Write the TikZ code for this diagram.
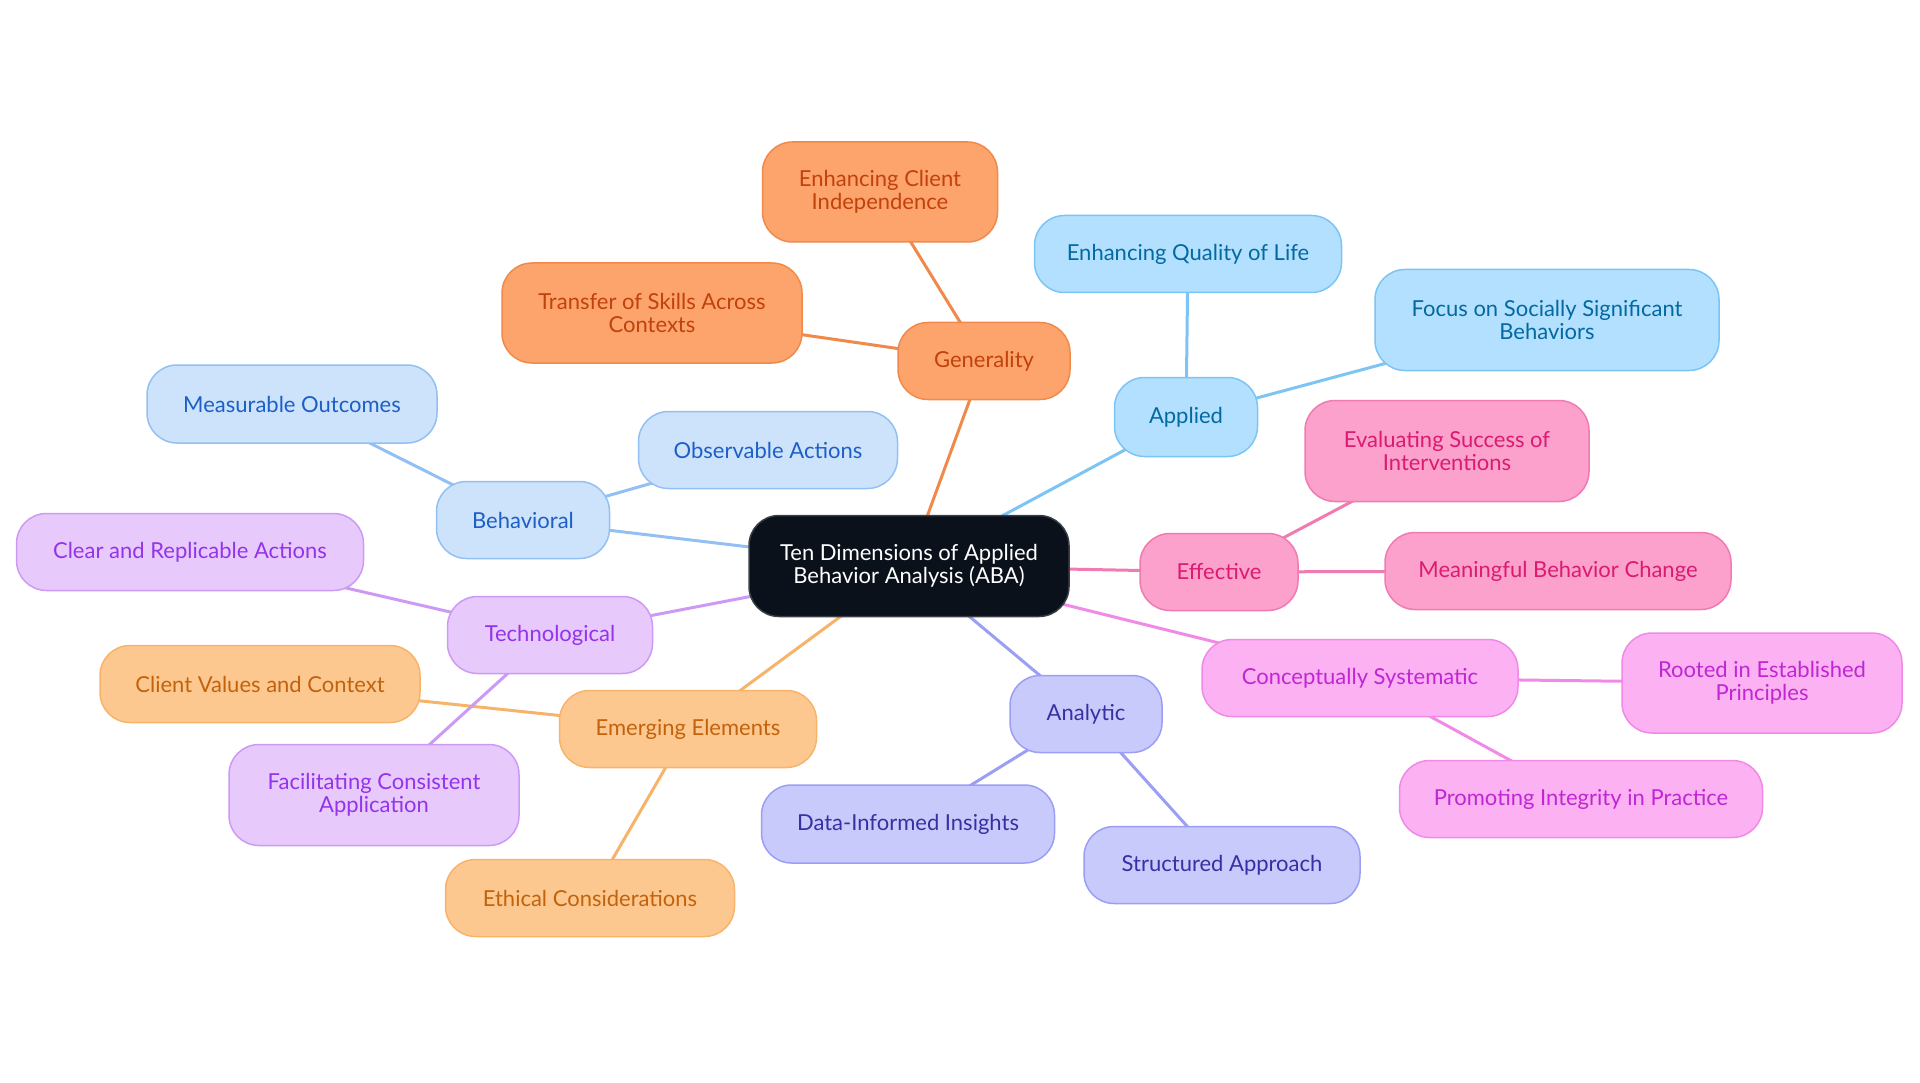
\documentclass[tikz,border=0pt]{standalone}
\usepackage{fontspec}
\setmainfont{Lato}
\usetikzlibrary{backgrounds}
\definecolor{cenfill}{HTML}{0B111B}
\definecolor{cendraw}{HTML}{3A3F47}
\definecolor{orfill}{HTML}{FCA46C}
\definecolor{ordraw}{HTML}{F08A4B}
\definecolor{ortext}{HTML}{C2410C}
\definecolor{skfill}{HTML}{B3E0FE}
\definecolor{skdraw}{HTML}{7CC4F4}
\definecolor{sktext}{HTML}{0369A1}
\definecolor{pkfill}{HTML}{FBA1CB}
\definecolor{pkdraw}{HTML}{F07BB0}
\definecolor{pktext}{HTML}{DB1A72}
\definecolor{mgfill}{HTML}{FBB1F2}
\definecolor{mgdraw}{HTML}{F08AE6}
\definecolor{mgtext}{HTML}{C026D3}
\definecolor{infill}{HTML}{C8CAFC}
\definecolor{indraw}{HTML}{9A9EF5}
\definecolor{intext}{HTML}{3730A3}
\definecolor{lofill}{HTML}{FDC890}
\definecolor{lodraw}{HTML}{F8B36A}
\definecolor{lotext}{HTML}{C2620C}
\definecolor{pufill}{HTML}{E8C9FC}
\definecolor{pudraw}{HTML}{CC9AF5}
\definecolor{putext}{HTML}{9333EA}
\definecolor{blfill}{HTML}{CDE3FB}
\definecolor{bldraw}{HTML}{93C0F2}
\definecolor{bltext}{HTML}{1D5FC7}
\tikzset{
  box/.style={rounded corners=30pt, line width=1.5pt, inner sep=0pt, align=center,
    font=\fontsize{22}{23.5}\selectfont},
  cen/.style={box, fill=cenfill, draw=cendraw, text=white},
  orn/.style={box, fill=orfill, draw=ordraw, text=ortext},
  skn/.style={box, fill=skfill, draw=skdraw, text=sktext},
  pkn/.style={box, fill=pkfill, draw=pkdraw, text=pktext},
  mgn/.style={box, fill=mgfill, draw=mgdraw, text=mgtext},
  inn/.style={box, fill=infill, draw=indraw, text=intext},
  lon/.style={box, fill=lofill, draw=lodraw, text=lotext},
  pun/.style={box, fill=pufill, draw=pudraw, text=putext},
  bln/.style={box, fill=blfill, draw=bldraw, text=bltext},
  sz/.style 2 args={minimum width=#1, minimum height=#2},
  ln/.style={line width=3pt, draw=#1}
}
\begin{document}
\begin{tikzpicture}[x=1pt,y=-1pt]
\useasboundingbox (0,0) rectangle (1920,1083);
\node[cen, sz={320}{101}] (c) at (909,566) {Ten Dimensions of Applied\\Behavior Analysis (ABA)};
% Generality
\node[orn, sz={172}{77}] (gen) at (984,361) {Generality};
\node[orn, sz={235}{100}] (eci) at (880,192) {Enhancing Client\\Independence};
\node[orn, sz={300}{100}] (tsa) at (652,313) {Transfer of Skills Across\\Contexts};
% Applied
\node[skn, sz={143}{79}] (app) at (1186,417) {Applied};
\node[skn, sz={307}{77}] (eql) at (1188,254) {Enhancing Quality of Life};
\node[skn, sz={344}{101}] (fss) at (1547,320) {Focus on Socially Significant\\Behaviors};
% Effective
\node[pkn, sz={158}{77}] (eff) at (1219,572) {Effective};
\node[pkn, sz={284}{101}] (esi) at (1447,451) {Evaluating Success of\\Interventions};
\node[pkn, sz={346}{77}] (mbc) at (1558,571) {Meaningful Behavior Change};
% Conceptually systematic
\node[mgn, sz={316}{77}] (cs) at (1360,678) {Conceptually Systematic};
\node[mgn, sz={280}{100}] (rep) at (1762,683) {Rooted in Established\\Principles};
\node[mgn, sz={363}{77}] (pip) at (1581,799) {Promoting Integrity in Practice};
% Analytic
\node[inn, sz={152}{77}] (ana) at (1086,714) {Analytic};
\node[inn, sz={293}{78}] (dii) at (908,824) {Data-Informed Insights};
\node[inn, sz={276}{77}] (sta) at (1222,865) {Structured Approach};
% Emerging
\node[lon, sz={257}{77}] (eme) at (688,729) {Emerging Elements};
\node[lon, sz={289}{77}] (eth) at (590,898) {Ethical Considerations};
\node[lon, sz={320}{77}] (cvc) at (260,684) {Client Values and Context};
% Technological
\node[pun, sz={205}{77}] (tec) at (550,635) {Technological};
\node[pun, sz={347}{77}] (cra) at (190,552) {Clear and Replicable Actions};
\node[pun, sz={290}{101}] (fca) at (374,795) {Facilitating Consistent\\Application};
% Behavioral
\node[bln, sz={173}{77}] (beh) at (523,520) {Behavioral};
\node[bln, sz={290}{78}] (mo) at (292,404) {Measurable Outcomes};
\node[bln, sz={259}{77}] (oa) at (768,450) {Observable Actions};
\begin{pgfonlayer}{background}
\draw[ln=ordraw] (c.center) -- (gen.center);
\draw[ln=ordraw] (gen.center) -- (eci.center);
\draw[ln=ordraw] (gen.center) -- (tsa.center);
\draw[ln=skdraw] (c.center) -- (app.center);
\draw[ln=skdraw] (app.center) -- (eql.center);
\draw[ln=skdraw] (app.center) -- (fss.center);
\draw[ln=pkdraw] (c.center) -- (eff.center);
\draw[ln=pkdraw] (eff.center) -- (esi.center);
\draw[ln=pkdraw] (eff.center) -- (mbc.center);
\draw[ln=mgdraw] (c.center) -- (cs.center);
\draw[ln=mgdraw] (cs.center) -- (rep.center);
\draw[ln=mgdraw] (cs.center) -- (pip.center);
\draw[ln=indraw] (c.center) -- (ana.center);
\draw[ln=indraw] (ana.center) -- (dii.center);
\draw[ln=indraw] (ana.center) -- (sta.center);
\draw[ln=lodraw] (c.center) -- (eme.center);
\draw[ln=lodraw] (eme.center) -- (eth.center);
\draw[ln=lodraw] (eme.center) -- (cvc.center);
\draw[ln=pudraw] (c.center) -- (tec.center);
\draw[ln=pudraw] (tec.center) -- (cra.center);
\draw[ln=pudraw] (tec.center) -- (fca.center);
\draw[ln=bldraw] (c.center) -- (beh.center);
\draw[ln=bldraw] (beh.center) -- (mo.center);
\draw[ln=bldraw] (beh.center) -- (oa.center);
\end{pgfonlayer}
\end{tikzpicture}
\end{document}
